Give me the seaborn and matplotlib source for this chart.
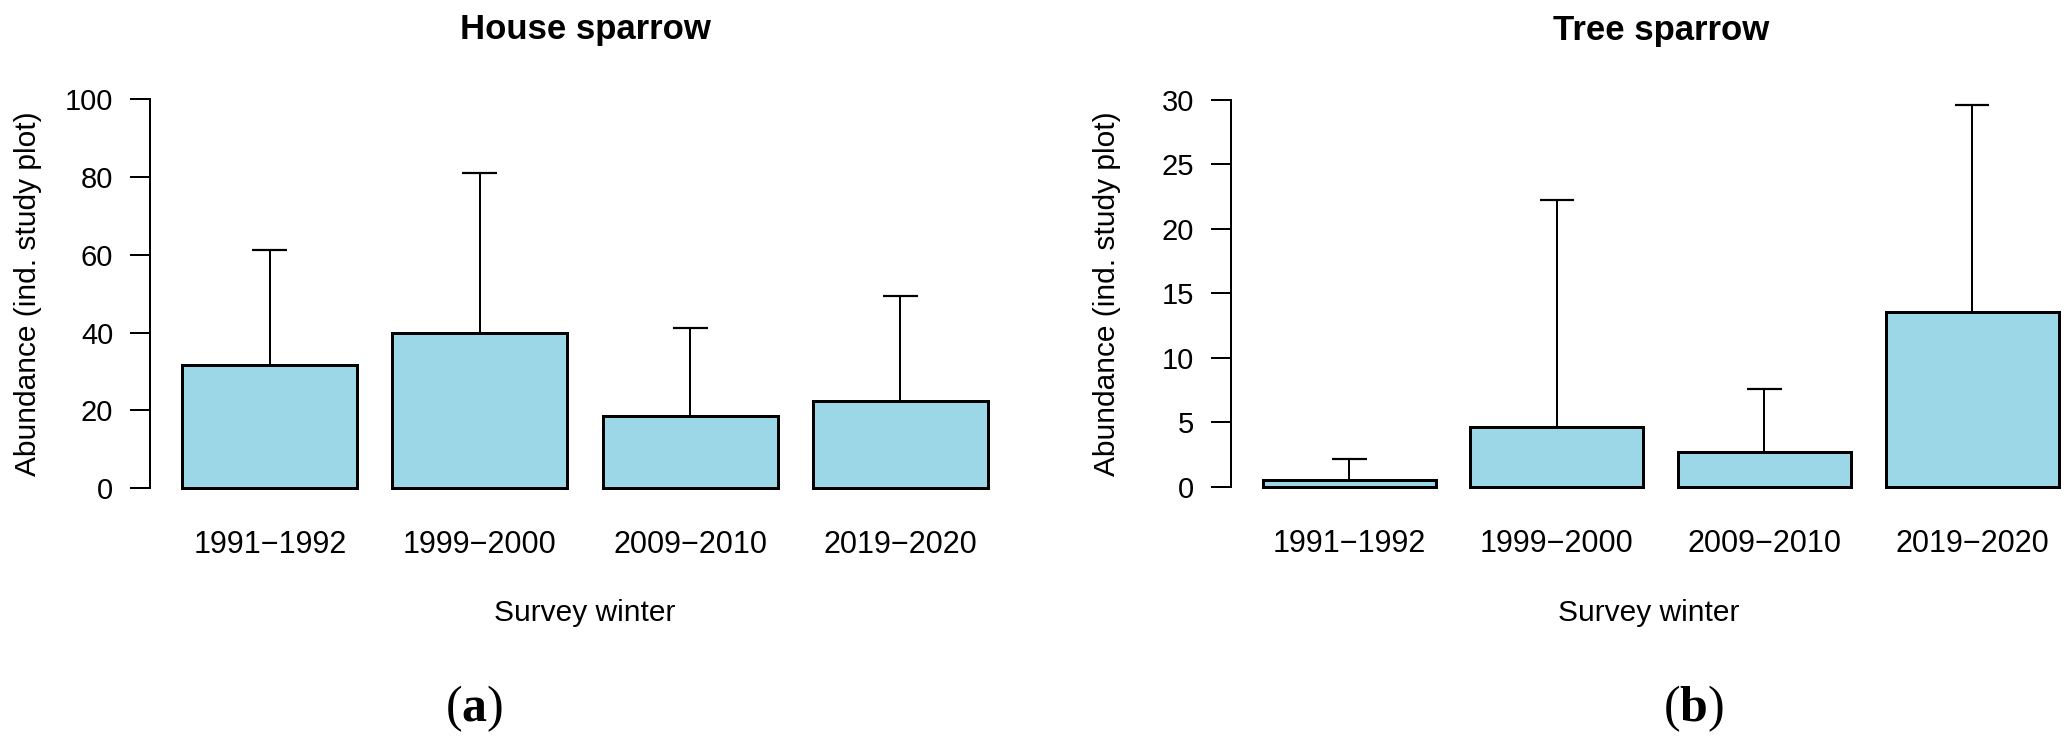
import numpy as np
import pandas as pd
import matplotlib
matplotlib.use("Agg")
import matplotlib.pyplot as plt
import seaborn as sns

# ---- data ----
winters = ["1991\u22121992", "1999\u22122000", "2009\u22122010", "2019\u22122020"]
house_mean = [31.6, 39.9, 18.5, 22.5]
house_upper = [61.3, 81.1, 41.2, 49.5]
tree_mean = [0.52, 4.65, 2.69, 13.54]
tree_upper = [2.15, 22.2, 7.55, 29.6]
titles = ["House sparrow", "Tree sparrow"]
panel_letters = ["a", "b"]
house_ticks = [0, 20, 40, 60, 80, 100]
tree_ticks = [0, 5, 10, 15, 20, 25, 30]

sns.set_theme(style="white")
plt.rcParams["font.family"] = ["Liberation Sans", "DejaVu Sans"]
plt.rcParams["mathtext.fontset"] = "custom"
plt.rcParams["mathtext.rm"] = "Liberation Serif"
plt.rcParams["mathtext.bf"] = "Liberation Serif:bold"

W, H = 2066, 746
fig = plt.figure(figsize=(W / 100, H / 100), dpi=100)

bar_color = "#9BD7E6"
px = 72 / 100  # points per pixel

def panel(rect, means, uppers, ticks, ylim, xlim, title, title_x, label_x, xlabel_y):
    ax = fig.add_axes(rect)
    df = pd.DataFrame({"winter": winters, "value": means})
    sns.barplot(data=df, x="winter", y="value", ax=ax, color=bar_color,
                saturation=1, width=1 / 1.2, edgecolor="black",
                linewidth=3 * px, errorbar=None, zorder=2)
    xs = np.arange(len(winters))
    ax.vlines(xs, means, uppers, color="black", linewidth=2 * px, zorder=1)
    ax.hlines(uppers, xs - 0.083, xs + 0.083, color="black", linewidth=2.2 * px, zorder=1)
    ax.set_xlim(*xlim)
    ax.set_ylim(*ylim)
    ax.set_yticks(ticks)
    ax.set_yticklabels([str(t) for t in ticks])
    for s in ["top", "right", "bottom"]:
        ax.spines[s].set_visible(False)
    ax.spines["left"].set_bounds(ticks[0], ticks[-1])
    ax.spines["left"].set_linewidth(2 * px)
    ax.spines["left"].set_color("black")
    ax.tick_params(axis="y", left=True, length=20 * px, width=2 * px, color="black",
                   pad=12, labelsize=21, labelcolor="black")
    ax.tick_params(axis="x", bottom=False, length=0, pad=19, labelsize=22, labelcolor="black")
    ax.set_xlabel("Survey winter", fontsize=21.5, color="black")
    ax.xaxis.label.set_va("center")
    ax.xaxis.set_label_coords(0.5, xlabel_y)
    ax.set_ylabel("Abundance (ind. study plot)", fontsize=21.5, color="black")
    ax.yaxis.label.set_va("center")
    ax.yaxis.set_label_coords(label_x, 0.5)
    ax.set_title(title, fontsize=25, fontweight="bold", pad=32, color="black")
    ax.title.set_x(title_x)
    ax.set_facecolor("white")
    return ax

# left panel: axes px 150..1020, y 83.8..503.5
axL = panel([150 / W, (H - 503.5) / H, 870 / W, 419.7 / H],
            house_mean, house_upper, house_ticks, (-4, 104), (-0.57, 3.57),
            titles[0], 0.5, (28 - 150) / 870, (503.5 - 613) / 419.7)
# right panel: axes px 1231..2066, y 84.2..502.2
axR = panel([1231 / W, (H - 502.2) / H, 835 / W, 418.0 / H],
            tree_mean, tree_upper, tree_ticks, (-1.2, 31.2), (-0.57, 3.4525),
            titles[1], (1661 - 1231) / 835, (1107 - 1231) / 835, (502.2 - 613) / 418.0)

for letter, xp in zip(panel_letters, [474, 1693]):
    fig.text(xp / W, 1 - 709 / H, "(" + r"$\mathbf{" + letter + "}$" + ")",
             fontsize=36, ha="center", va="center",
             family=["Liberation Serif", "DejaVu Serif"], color="black")

fig.savefig("out.png", dpi=100, facecolor="white")
